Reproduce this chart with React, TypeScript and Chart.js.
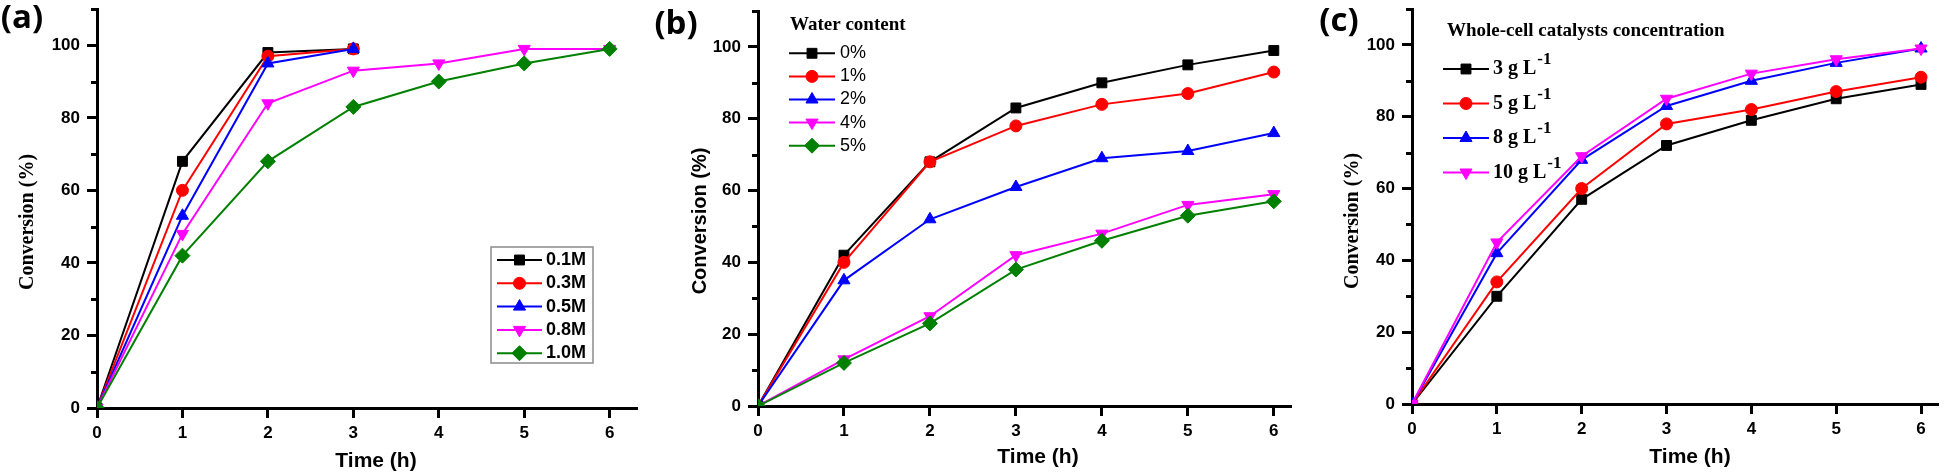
import React, { useEffect, useRef } from 'react';
import { Chart, registerables } from 'chart.js';
import { drawPoint } from 'chart.js/helpers';

Chart.register(...registerables);

// ---------- data ----------
const timeH = [0, 1, 2, 3, 4, 5, 6];
const xTickValues = [0, 1, 2, 3, 4, 5, 6];
const yMajorTicks = [0, 20, 40, 60, 80, 100];
const yMinorTicks = [10, 30, 50, 70, 90, 110];

// (a) substrate concentration
const concLabels = ['0.1M', '0.3M', '0.5M', '0.8M', '1.0M'];
const conc01 = [0, 68, 98, 99];
const conc03 = [0, 60, 97, 99];
const conc05 = [0, 53, 95, 99];
const conc08 = [0, 48, 84, 93, 95, 99, 99];
const conc10 = [0, 42, 68, 83, 90, 95, 99];

// (b) water content
const waterLabels = ['0%', '1%', '2%', '4%', '5%'];
const water0 = [0, 42, 68, 83, 90, 95, 99];
const water1 = [0, 40, 68, 78, 84, 87, 93];
const water2 = [0, 35, 52, 61, 69, 71, 76];
const water4 = [0, 13, 25, 42, 48, 56, 59];
const water5 = [0, 12, 23, 38, 46, 53, 57];

// (c) whole-cell catalyst concentration
const cellLabels = ['3 g L⁻¹', '5 g L⁻¹', '8 g L⁻¹', '10 g L⁻¹'];
const cell3 = [0, 30, 57, 72, 79, 85, 89];
const cell5 = [0, 34, 60, 78, 82, 87, 91];
const cell8 = [0, 42, 68, 83, 90, 95, 99];
const cell10 = [0, 45, 69, 85, 92, 96, 99];

// ---------- styles ----------
const seriesColors = ['#000000', '#ff0000', '#0000ff', '#ff00ff', '#008000'];
const pointStyles = ['rect', 'circle', 'triangle', 'triangle', 'rectRot'];
const pointRotations = [0, 0, 0, 180, 0];
const pointRadii = [7, 6, 7, 7, 7.5];

const SANS = 'Liberation Sans, Arial, sans-serif';
const SERIF = 'Liberation Serif, Times New Roman, serif';

function makeDatasets(labels: string[], series: number[][]) {
  const n = series.length;
  return series.map((vals, i) => ({
    label: labels[i],
    data: vals.map((v, k) => ({ x: timeH[k], y: v })),
    borderColor: seriesColors[i],
    backgroundColor: seriesColors[i],
    pointBackgroundColor: seriesColors[i],
    pointBorderColor: seriesColors[i],
    pointBorderWidth: 1,
    pointStyle: pointStyles[i],
    pointRotation: pointRotations[i],
    pointRadius: pointRadii[i],
    borderWidth: 2,
    tension: 0,
    order: n - i,
  }));
}

const decorPlugin = {
  id: 'decor',
  afterDraw(chart: any, _args: any, opts: any) {
    const ctx = chart.ctx;
    const area = chart.chartArea;
    const ys = chart.scales.y;
    ctx.save();
    // minor y ticks
    ctx.strokeStyle = '#000';
    ctx.lineWidth = 3;
    yMinorTicks.forEach((v) => {
      const py = Math.round(ys.getPixelForValue(v)) + 0.5;
      ctx.beginPath();
      ctx.moveTo(area.left, py);
      ctx.lineTo(area.left - 6, py);
      ctx.stroke();
    });
    // texts
    ctx.fillStyle = '#000';
    ctx.textBaseline = 'middle';
    (opts.texts || []).forEach((t: any) => {
      ctx.save();
      ctx.translate(t.x, t.y);
      if (t.rot) ctx.rotate(t.rot);
      ctx.font = t.font;
      ctx.textAlign = t.align || 'center';
      ctx.fillText(t.text, 0, 0);
      ctx.restore();
    });
    // legend
    const lg = opts.legend;
    if (lg) {
      if (lg.box) {
        ctx.fillStyle = '#fff';
        ctx.fillRect(lg.box[0], lg.box[1], lg.box[2], lg.box[3]);
        ctx.strokeStyle = '#8a8a8a';
        ctx.lineWidth = 1.5;
        ctx.strokeRect(lg.box[0], lg.box[1], lg.box[2], lg.box[3]);
      }
      if (lg.title) {
        ctx.fillStyle = '#000';
        ctx.font = lg.titleFont;
        ctx.textAlign = 'left';
        ctx.fillText(lg.title, lg.titleX, lg.titleY);
      }
      chart.data.datasets.forEach((ds: any, i: number) => {
        const y = lg.y0 + i * lg.dy;
        ctx.strokeStyle = ds.borderColor;
        ctx.lineWidth = 2;
        ctx.beginPath();
        ctx.moveTo(lg.lineX0, y);
        ctx.lineTo(lg.lineX1, y);
        ctx.stroke();
        ctx.fillStyle = ds.pointBackgroundColor;
        ctx.lineWidth = 1;
        drawPoint(ctx, { pointStyle: ds.pointStyle, rotation: ds.pointRotation, radius: ds.pointRadius, borderWidth: 1 } as any, (lg.lineX0 + lg.lineX1) / 2, y);
        ctx.fillStyle = '#000';
        ctx.textAlign = 'left';
        ctx.font = lg.font;
        const label: string = ds.label;
        if (label.endsWith('⁻¹')) {
          const base = label.slice(0, -2);
          ctx.fillText(base, lg.textX, y);
          const w = ctx.measureText(base).width;
          ctx.font = lg.supFont;
          ctx.fillText('-1', lg.textX + w + 1, y - 9);
        } else {
          ctx.fillText(label, lg.textX, y);
        }
      });
    }
    ctx.restore();
  },
};

function buildConfig(p: any) {
  return {
    type: 'line',
    data: { datasets: p.datasets },
    plugins: [decorPlugin],
    options: {
      responsive: false,
      animation: false,
      events: [],
      layout: { padding: { top: p.padTop, right: p.padRight, left: 0, bottom: 0 } },
      plugins: {
        legend: { display: false },
        tooltip: { enabled: false },
        decor: { texts: p.texts, legend: p.legend },
      },
      scales: {
        x: {
          type: 'linear',
          min: 0,
          max: p.xMax,
          afterBuildTicks: (s: any) => {
            s.ticks = xTickValues.map((v) => ({ value: v }));
          },
          afterFit: (s: any) => {
            s.height = p.xAxisHeight;
            s.paddingLeft = 0;
            s.paddingRight = 0;
            s.paddingTop = 0;
            s.paddingBottom = 0;
          },
          grid: { display: true, drawOnChartArea: false, drawTicks: true, tickLength: 10, tickWidth: 3, tickColor: '#000' },
          border: { display: true, color: '#000', width: 3 },
          ticks: { color: '#000', font: { family: SANS, size: 17, weight: 'bold' }, padding: 5, maxRotation: 0, autoSkip: false },
        },
        y: {
          type: 'linear',
          min: 0,
          max: 110,
          afterBuildTicks: (s: any) => {
            s.ticks = yMajorTicks.map((v) => ({ value: v }));
          },
          afterFit: (s: any) => {
            s.width = p.yAxisWidth;
            s.paddingLeft = 0;
            s.paddingRight = 0;
            s.paddingTop = 0;
            s.paddingBottom = 0;
          },
          grid: { display: true, drawOnChartArea: false, drawTicks: true, tickLength: 10, tickWidth: 3, tickColor: '#000' },
          border: { display: true, color: '#000', width: 3 },
          ticks: { color: '#000', font: { family: SANS, size: 17, weight: 'bold' }, padding: 7, autoSkip: false },
        },
      },
    },
  };
}

const panelA = {
  datasets: makeDatasets(concLabels, [conc01, conc03, conc05, conc08, conc10]),
  xMax: 6.32,
  padTop: 9,
  padRight: 13,
  yAxisWidth: 97,
  xAxisHeight: 66,
  texts: [
    { text: '(a)', x: 22, y: 19, font: 'bold 33px "Open Sans", sans-serif' },
    { text: 'Conversion (%)', x: 28, y: 222, rot: -Math.PI / 2, font: `bold 20px ${SERIF}` },
    { text: 'Time (h)', x: 376, y: 461, font: `bold 21px ${SANS}` },
  ],
  legend: {
    box: [491, 247, 102, 116],
    lineX0: 497,
    lineX1: 542,
    textX: 546,
    y0: 260,
    dy: 23.3,
    font: `bold 18px ${SANS}`,
  },
};

const panelB = {
  datasets: makeDatasets(waterLabels, [water0, water1, water2, water4, water5]),
  xMax: 6.2,
  padTop: 11,
  padRight: 9,
  yAxisWidth: 108,
  xAxisHeight: 68,
  texts: [
    { text: '(b)', x: 26, y: 25, font: 'bold 33px "Open Sans", sans-serif' },
    { text: 'Conversion (%)', x: 50, y: 221, rot: -Math.PI / 2, font: `bold 20px ${SANS}` },
    { text: 'Time (h)', x: 388, y: 457, font: `bold 21px ${SANS}` },
  ],
  legend: {
    title: 'Water content',
    titleFont: `bold 19px ${SERIF}`,
    titleX: 140,
    titleY: 25,
    lineX0: 139,
    lineX1: 185,
    textX: 190,
    y0: 53.3,
    dy: 23.1,
    font: `18px ${SANS}`,
  },
};

const panelC = {
  datasets: makeDatasets(cellLabels, [cell3, cell5, cell8, cell10]),
  xMax: 6.2,
  padTop: 9,
  padRight: 2,
  yAxisWidth: 112,
  xAxisHeight: 70,
  texts: [
    { text: '(c)', x: 39, y: 22, font: 'bold 33px "Open Sans", sans-serif' },
    { text: 'Conversion (%)', x: 53, y: 221, rot: -Math.PI / 2, font: `bold 20px ${SERIF}` },
    { text: 'Time (h)', x: 390, y: 457, font: `bold 21px ${SANS}` },
  ],
  legend: {
    title: 'Whole-cell catalysts concentration',
    titleFont: `bold 19px ${SERIF}`,
    titleX: 147,
    titleY: 31,
    lineX0: 143,
    lineX1: 189,
    textX: 193,
    y0: 69,
    dy: 34.5,
    font: `bold 20px ${SERIF}`,
    supFont: `bold 17px ${SERIF}`,
  },
};

function Panel({ spec, left, width }: { spec: any; left: number; width: number }) {
  const ref = useRef<HTMLCanvasElement>(null);
  useEffect(() => {
    const chart = new Chart(ref.current as HTMLCanvasElement, buildConfig(spec) as any);
    return () => chart.destroy();
  }, []);
  return (
    <canvas
      ref={ref}
      width={width}
      height={474}
      style={{ position: 'absolute', left, top: 0, width, height: 474 }}
    />
  );
}

export default function App() {
  return (
    <div style={{ position: 'fixed', left: 0, top: 0, width: 1946, height: 474, background: '#fff' }}>
      <Panel spec={panelA} left={0} width={650} />
      <Panel spec={panelB} left={650} width={650} />
      <Panel spec={panelC} left={1300} width={646} />
    </div>
  );
}
